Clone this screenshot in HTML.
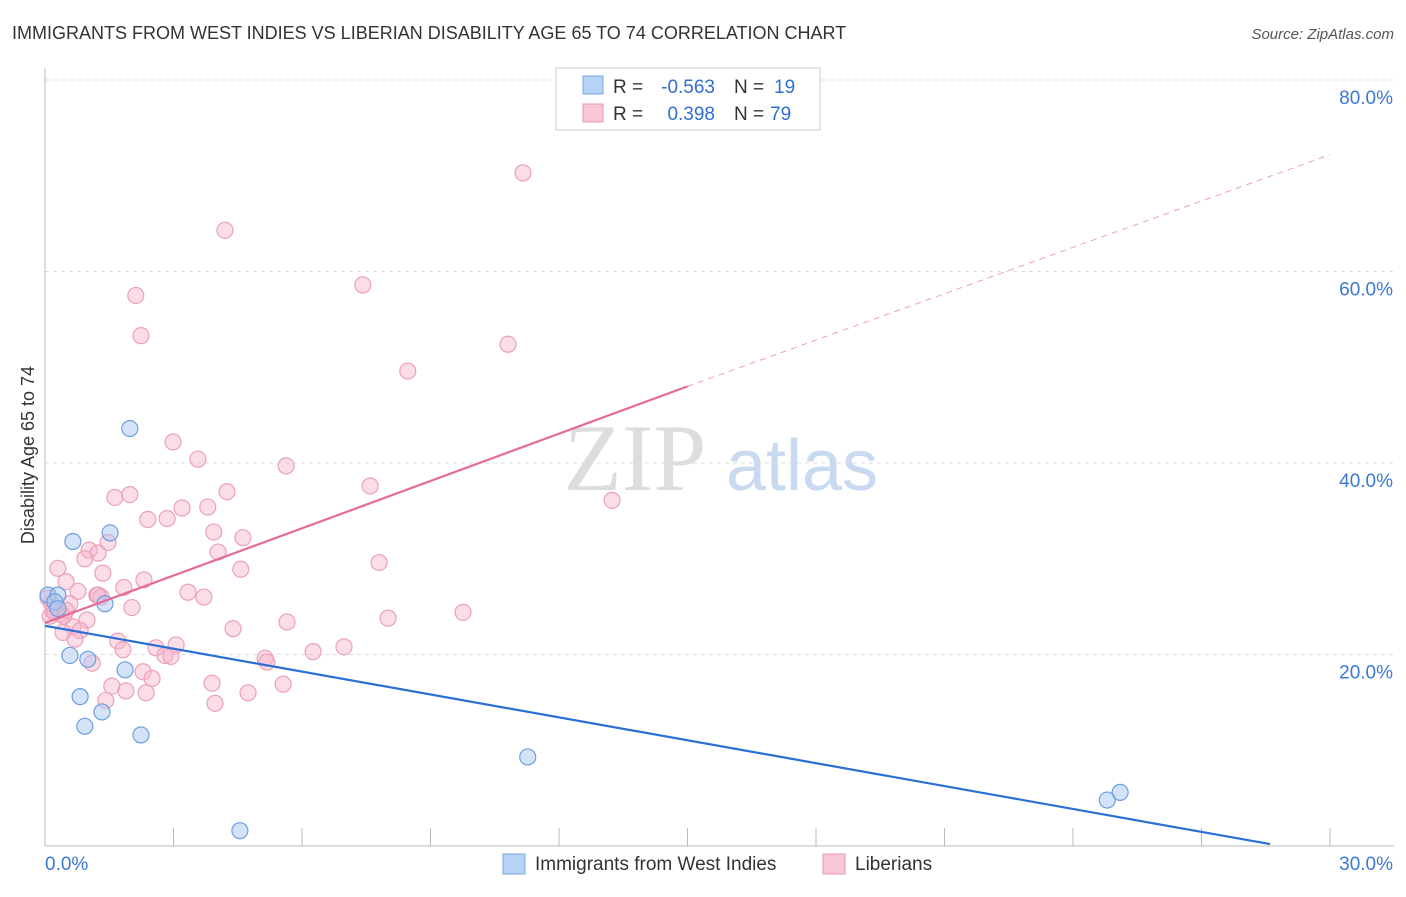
<!DOCTYPE html>
<html><head><meta charset="utf-8"><style>
body{margin:0;background:#fff;font-family:"Liberation Sans",sans-serif}
</style></head><body>
<svg width="1406" height="892" xmlns="http://www.w3.org/2000/svg" font-family="Liberation Sans, sans-serif">
<text x="12" y="39" font-size="18" fill="#333">IMMIGRANTS FROM WEST INDIES VS LIBERIAN DISABILITY AGE 65 TO 74 CORRELATION CHART</text>
<text x="1394" y="39" font-size="15" fill="#555" font-style="italic" text-anchor="end">Source: ZipAtlas.com</text>
<text x="34" y="455" font-size="18" fill="#333" transform="rotate(-90 34 455)" text-anchor="middle">Disability Age 65 to 74</text>
<text x="635" y="490" font-size="95" fill="#ddd" style="font-family:'Liberation Serif',serif" text-anchor="middle">ZIP</text>
<text x="802" y="490" font-size="72" fill="#c8d9f0" text-anchor="middle">atlas</text>
<g id="grid"></g>
<g id="axes"></g>
<g id="pts"></g>
<g id="lines"></g>
<g>
<rect x="556" y="68" width="264" height="62" fill="#fff" stroke="#ccc"/>
<rect x="583" y="76" width="20" height="18" fill="#b7d3f5" stroke="#7aa6e0"/>
<rect x="583" y="104" width="20" height="18" fill="#f9c6d6" stroke="#e898b3"/>
<text x="613" y="93" font-size="19" fill="#333">R =</text>
<text x="715" y="93" font-size="19" fill="#2f6fd4" text-anchor="end">-0.563</text>
<text x="734" y="93" font-size="19" fill="#333">N =</text>
<text x="774" y="93" font-size="19" fill="#2f6fd4">19</text>
<text x="613" y="120" font-size="19" fill="#333">R =</text>
<text x="715" y="120" font-size="19" fill="#2f6fd4" text-anchor="end">0.398</text>
<text x="734" y="120" font-size="19" fill="#333">N =</text>
<text x="770" y="120" font-size="19" fill="#2f6fd4">79</text>
</g>
<g>
<rect x="503" y="854" width="22" height="20" fill="#b7d3f5" stroke="#7aa6e0"/>
<text x="535" y="870" font-size="19" fill="#333">Immigrants from West Indies</text>
<rect x="823" y="854" width="22" height="20" fill="#f9c6d6" stroke="#e898b3"/>
<text x="855" y="870" font-size="19" fill="#333">Liberians</text>
</g>
</svg>
<script>
const yTicks=[20,40,60,80];
const xTickLabels=["0.0%","30.0%"];
const blueX=[1.98,1.52,0.65,0.07,0.3,0.23,1.4,0.3,0.58,1.0,1.87,0.82,1.33,0.93,2.24,11.27,25.1,24.8,4.55];
const blueY=[43.6,32.7,31.8,26.2,26.2,25.5,25.3,24.8,19.9,19.5,18.4,15.6,14.0,12.5,11.6,9.3,5.6,4.8,1.6];
const pinkX=[11.16,4.2,7.42,2.12,2.24,10.81,8.47,2.99,3.57,5.63,7.59,4.25,1.63,1.98,3.2,3.8,13.24,2.4,2.85,3.94,4.62,1.47,1.03,1.24,4.04,0.3,4.57,7.8,1.35,0.49,2.31,1.84,0.77,1.21,1.31,3.34,3.71,0.58,2.03,9.76,0.19,0.35,0.12,0.44,0.98,8.01,5.65,0.65,0.82,0.42,4.39,1.7,0.7,2.59,3.06,1.82,6.98,6.26,2.8,2.94,5.14,5.18,1.1,2.29,2.5,3.9,5.56,1.56,1.89,2.36,4.74,1.42,3.97,0.07,0.16,0.23,0.49,1.24,0.93];
const pinkY=[70.3,64.3,58.6,57.5,53.3,52.4,49.6,42.2,40.4,39.7,37.6,37.0,36.4,36.7,35.3,35.4,36.1,34.1,34.2,32.8,32.2,31.7,30.9,30.6,30.7,29.0,28.9,29.6,28.5,27.6,27.8,27.0,26.6,26.2,26.0,26.5,26.0,25.3,24.9,24.4,24.5,24.2,24.0,24.0,23.6,23.8,23.4,22.9,22.5,22.3,22.7,21.4,21.6,20.7,21.0,20.5,20.8,20.3,19.9,19.8,19.6,19.2,19.1,18.2,17.5,17.0,16.9,16.7,16.2,16.0,16.0,15.2,14.9,25.9,25.3,24.4,24.6,26.2,30.0];
const blueLine=[[0,23.0],[28.6,0.2]];
const pinkLine=[[0,23.3],[15,48.0]];
const pinkDash=[[15,48.0],[30,72.2]];
const X=v=>45+v/30*1285, Y=v=>846-v/20*191.5;
const ns="http://www.w3.org/2000/svg";
function mk(t,a,p){const e=document.createElementNS(ns,t);for(const k in a)e.setAttribute(k,a[k]);document.getElementById(p).appendChild(e);return e;}
yTicks.forEach(t=>{const l=mk('line',{x1:45,x2:1394,y1:Y(t),y2:Y(t),stroke:'#ddd','stroke-dasharray':'4,4'},'grid');


const tx=mk('text',{x:1393,y:Y(t)+24,'font-size':19,fill:'#3b78d4','text-anchor':'end'},'grid');tx.textContent=t+'.0%';

});
mk('line',{x1:45,x2:45,y1:68,y2:846,stroke:'#bbb'},'axes');
mk('line',{x1:45,x2:1394,y1:846,y2:846,stroke:'#bbb'},'axes');
for(let i=1;i<=10;i++){mk('line',{x1:X(i*3),x2:X(i*3),y1:828,y2:846,stroke:'#bbb'},'axes');}
const xl0=mk('text',{x:45,y:870,'font-size':19,fill:'#3b78d4'},'axes');xl0.textContent=xTickLabels[0];


const xl1=mk('text',{x:1393,y:870,'font-size':19,fill:'#3b78d4','text-anchor':'end'},'axes');xl1.textContent=xTickLabels[1];


pinkX.forEach((v,i)=>{const c=mk('circle',{cx:X(v),cy:Y(pinkY[i]),r:8,fill:'rgba(246,180,202,0.45)',stroke:'#eba0ba','stroke-width':1.2},'pts');

});
blueX.forEach((v,i)=>{const c=mk('circle',{cx:X(v),cy:Y(blueY[i]),r:8,fill:'rgba(170,200,240,0.5)',stroke:'#6d9ee0','stroke-width':1.2},'pts');

});
const bl=mk('line',{x1:X(blueLine[0][0]),y1:Y(blueLine[0][1]),x2:X(blueLine[1][0]),y2:Y(blueLine[1][1]),stroke:'#2a6fd6','stroke-width':2.2},'lines');


const pl=mk('line',{x1:X(pinkLine[0][0]),y1:Y(pinkLine[0][1]),x2:X(pinkLine[1][0]),y2:Y(pinkLine[1][1]),stroke:'#e56b98','stroke-width':2.2},'lines');


const pd=mk('line',{x1:X(pinkDash[0][0]),y1:Y(pinkDash[0][1]),x2:X(pinkDash[1][0]),y2:Y(pinkDash[1][1]),stroke:'#eba0ba','stroke-width':1,'stroke-dasharray':'6,5'},'lines');


</script>
</body></html>
